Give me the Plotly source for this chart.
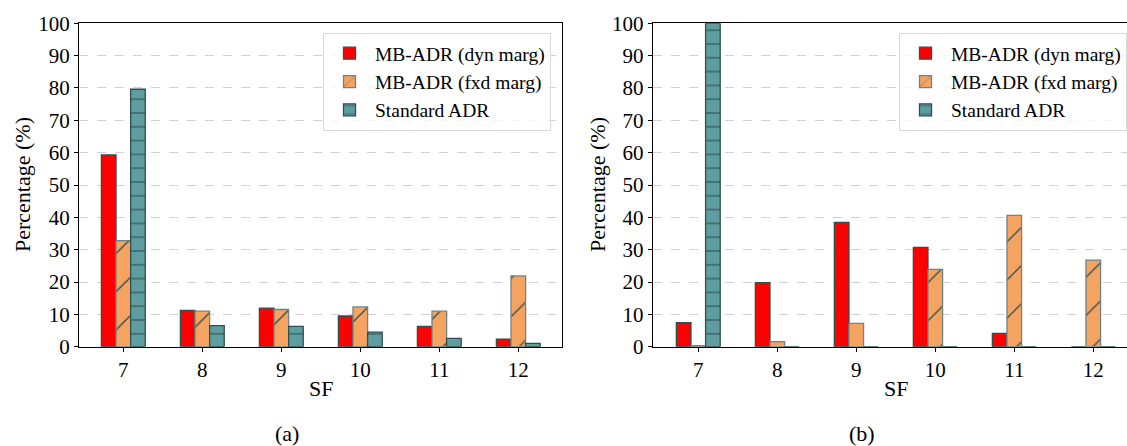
import plotly.graph_objects as go

W, H = 1127, 446

sf = [7, 8, 9, 10, 11, 12]
series_names = ["MB-ADR (dyn marg)", "MB-ADR (fxd marg)", "Standard ADR"]

# Panel (a)
a_dyn = [59.3, 11.2, 11.9, 9.5, 6.3, 2.3]
a_fxd = [32.8, 11.0, 11.5, 12.3, 11.0, 21.9]
a_std = [79.6, 6.5, 6.3, 4.5, 2.6, 1.0]

# Panel (b)
b_dyn = [7.4, 19.8, 38.4, 30.7, 4.1, 0.0]
b_fxd = [0.3, 1.6, 7.2, 23.9, 40.6, 26.8]
b_std = [100.0, 0.0, 0.0, 0.0, 0.0, 0.0]

y_ticks = list(range(0, 101, 10))

FONT = "Liberation Serif"
EDGE = "#2F4F4F"
styles = [
    dict(color="#FF0000", line=dict(color=EDGE, width=1.3)),
    dict(color="#F4A460", line=dict(color="#6E8585", width=1.3),
         pattern=dict(shape="/", fgcolor=EDGE, fgopacity=1, size=27, solidity=0.05,
                      fillmode="overlay")),
    dict(color="#5F9EA0", line=dict(color=EDGE, width=1.3),
         pattern=dict(shape="-", fgcolor=EDGE, fgopacity=1, size=13.8, solidity=0.08,
                      fillmode="overlay")),
]

fig = go.Figure()
for vals, st, name in zip([a_dyn, a_fxd, a_std], styles, series_names):
    fig.add_trace(go.Bar(x=sf, y=vals, name=name, marker=st, xaxis="x", yaxis="y",
                         legend="legend"))
for vals, st, name in zip([b_dyn, b_fxd, b_std], styles, series_names):
    fig.add_trace(go.Bar(x=sf, y=vals, name=name, marker=st, xaxis="x2", yaxis="y2",
                         legend="legend2"))

def px(x):
    return x / W

def py(y):
    return (H - y) / H

ydom = [py(346.7), py(23.3)]
axis_common = dict(showline=True, linecolor="black", linewidth=1.2, ticks="outside",
                   ticklen=4, tickcolor="black", tickwidth=1, automargin=False,
                   tickfont=dict(family=FONT, size=21, color="black"))

legend_common = dict(xanchor="left", yanchor="top", y=py(33),
                     bgcolor="rgba(255,255,255,0.8)", bordercolor="#d8d8d8", borderwidth=1,
                     font=dict(family=FONT, size=19.5, color="black"), itemwidth=41)

fig.update_layout(
    width=W, height=H,
    margin=dict(l=0, r=0, t=0, b=0, pad=0, autoexpand=False),
    paper_bgcolor="white", plot_bgcolor="white",
    barmode="group", bargap=0.445, bargroupgap=0,
    font=dict(family=FONT, color="black"),
    xaxis=dict(domain=[px(79), px(562.3)], range=[6.439, 12.557], tickvals=sf,
               mirror=True, showgrid=False, zeroline=False, anchor="y", **axis_common),
    yaxis=dict(domain=ydom, range=[0, 100], tickvals=y_ticks, mirror=True,
               showgrid=True, gridcolor="#d0d0d0", griddash="dash", gridwidth=1,
               zeroline=False, anchor="x", **axis_common),
    xaxis2=dict(domain=[px(652.7), 1.0], range=[6.423, 12.427], tickvals=sf,
                mirror=True, showgrid=False, zeroline=False, anchor="y2", **axis_common),
    yaxis2=dict(domain=ydom, range=[0, 100], tickvals=y_ticks, mirror=False,
                showgrid=True, gridcolor="#d0d0d0", griddash="dash", gridwidth=1,
                zeroline=False, anchor="x2", **axis_common),
    legend=dict(x=px(323), **legend_common),
    legend2=dict(x=px(899), **legend_common),
)

ann_font = dict(family=FONT, size=22, color="black")
annotations = [
    dict(text="Percentage (%)", x=px(22), y=py(185), textangle=-90),
    dict(text="Percentage (%)", x=px(597), y=py(185), textangle=-90),
    dict(text="SF", x=px(320.7), y=py(388)),
    dict(text="SF", x=px(896), y=py(388)),
    dict(text="(a)", x=px(287), y=py(433)),
    dict(text="(b)", x=px(862), y=py(433)),
]
for a in annotations:
    fig.add_annotation(xref="paper", yref="paper", showarrow=False,
                       xanchor="center", yanchor="middle", font=ann_font, **a)

fig.write_html("out.html")
